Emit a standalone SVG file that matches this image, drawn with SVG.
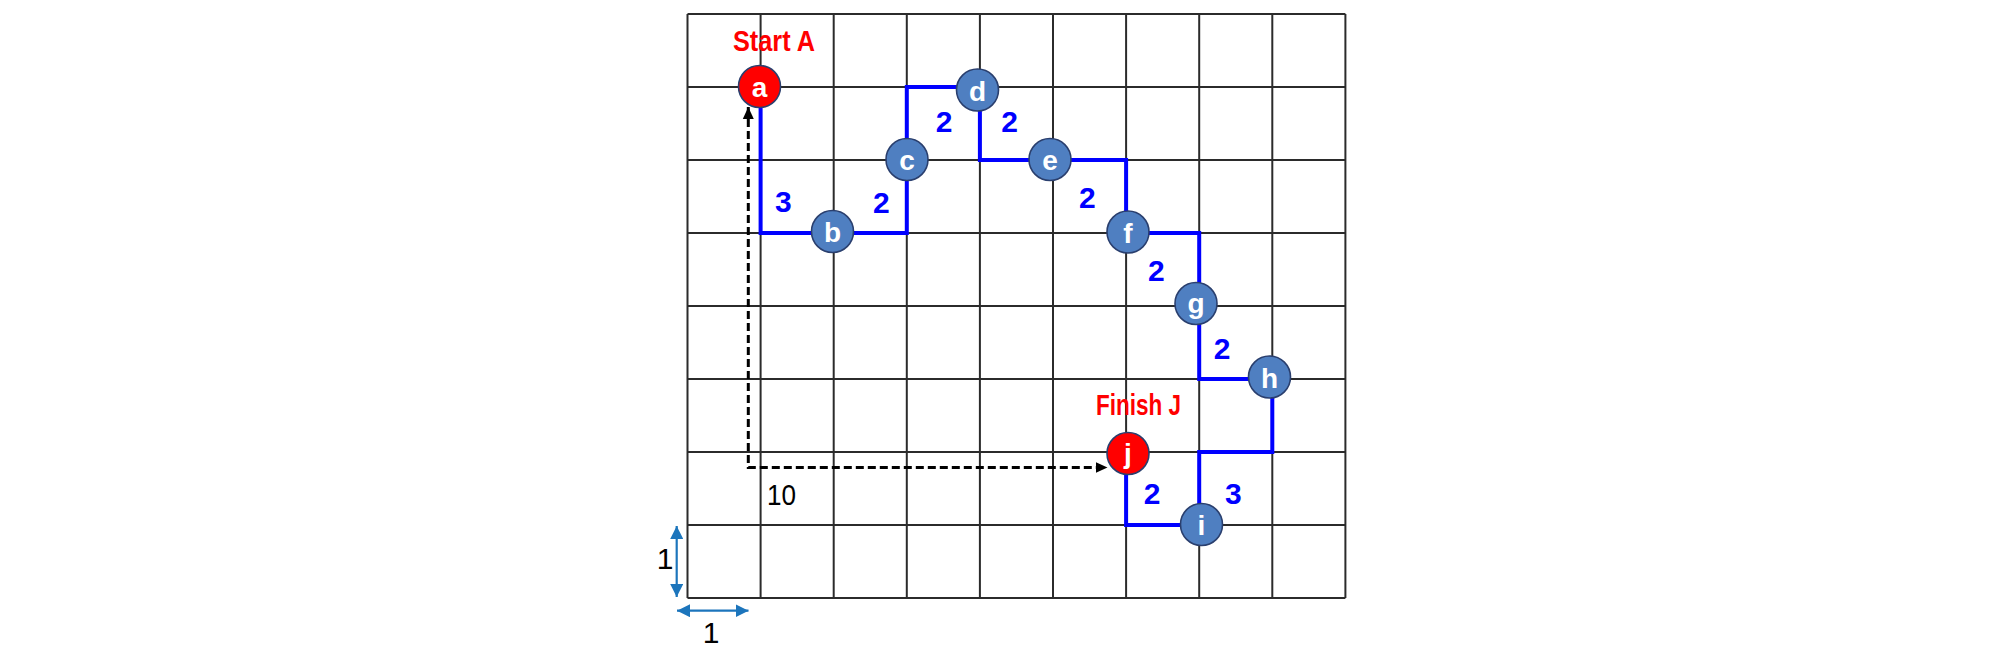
<svg xmlns="http://www.w3.org/2000/svg" width="2008" height="653" viewBox="0 0 2008 653">
  <style>
    .grid line { stroke: #2b2b2b; stroke-width: 2; }
    .path { fill: none; stroke: #0000ff; stroke-width: 4; stroke-linejoin: miter; }
    .dash { fill: none; stroke: #000; stroke-width: 3; stroke-dasharray: 8 4; }
    .meas { fill: none; stroke: #1c75bc; stroke-width: 2.2; }
    .w { font-family: "Liberation Sans", Arial, sans-serif; font-size: 30px; font-weight: bold; fill: #0000ff; text-anchor: middle; }
    .red { font-family: "Liberation Sans", Arial, sans-serif; font-size: 30px; font-weight: bold; fill: #ff0000; }
    .blk { font-family: "Liberation Sans", Arial, sans-serif; font-size: 30px; fill: #000; }
    .node circle { stroke: #2a3f6e; stroke-width: 1.6; }
    .blue circle { fill: #4f7fc1; }
    .redn circle { fill: #ff0000; }
    .node text { font-family: "Liberation Sans", Arial, sans-serif; font-size: 28px; font-weight: bold; fill: #ffffff; text-anchor: middle; }
  </style>
  <defs>
    <marker id="ah" markerUnits="userSpaceOnUse" markerWidth="12" markerHeight="12" viewBox="0 0 12 12" refX="12" refY="6" orient="auto-start-reverse">
      <path d="M0,0.5 L12,6 L0,11.5 z" fill="#000"/>
    </marker>
    <marker id="bh" markerUnits="userSpaceOnUse" markerWidth="13" markerHeight="13" viewBox="0 0 13 13" refX="13" refY="6.5" orient="auto-start-reverse">
      <path d="M0,0 L13,6.5 L0,13 z" fill="#1c75bc"/>
    </marker>
  </defs>

  <rect width="2008" height="653" fill="#ffffff"/>

  <g id="grid" class="grid">
    <line x1="687.5" y1="14" x2="687.5" y2="598"/>
    <line x1="760.6" y1="14" x2="760.6" y2="598"/>
    <line x1="833.7" y1="14" x2="833.7" y2="598"/>
    <line x1="906.8" y1="14" x2="906.8" y2="598"/>
    <line x1="979.9" y1="14" x2="979.9" y2="598"/>
    <line x1="1053" y1="14" x2="1053" y2="598"/>
    <line x1="1126.1" y1="14" x2="1126.1" y2="598"/>
    <line x1="1199.2" y1="14" x2="1199.2" y2="598"/>
    <line x1="1272.3" y1="14" x2="1272.3" y2="598"/>
    <line x1="1345.4" y1="14" x2="1345.4" y2="598"/>
    <line x1="687.5" y1="14" x2="1345.4" y2="14"/>
    <line x1="687.5" y1="87" x2="1345.4" y2="87"/>
    <line x1="687.5" y1="160" x2="1345.4" y2="160"/>
    <line x1="687.5" y1="233" x2="1345.4" y2="233"/>
    <line x1="687.5" y1="306" x2="1345.4" y2="306"/>
    <line x1="687.5" y1="379" x2="1345.4" y2="379"/>
    <line x1="687.5" y1="452" x2="1345.4" y2="452"/>
    <line x1="687.5" y1="525" x2="1345.4" y2="525"/>
    <line x1="687.5" y1="598" x2="1345.4" y2="598"/>
  </g>

  <g id="connectors">
    <path class="path" d="M760.6,87 V233 H906.8 V87 H979.9 V160 H1126.1 V233 H1199.2 V379 H1272.3 V452 H1199.2 V525 H1126.1 V452"/>
    <path class="dash" d="M748.3,107 V467.5 H1107.5" marker-start="url(#ah)" marker-end="url(#ah)"/>
    <path class="meas" d="M676.7,526 V597" marker-start="url(#bh)" marker-end="url(#bh)"/>
    <path class="meas" d="M677,610.7 H748.5" marker-start="url(#bh)" marker-end="url(#bh)"/>
  </g>

  <g id="labels">
    <text class="red" x="733" y="51" textLength="82" lengthAdjust="spacingAndGlyphs">Start A</text>
    <text class="red" x="1096" y="415" textLength="85" lengthAdjust="spacingAndGlyphs">Finish J</text>
    <text class="blk" x="767" y="504.5" textLength="29" lengthAdjust="spacingAndGlyphs">10</text>
    <text class="blk" x="665" y="569" text-anchor="middle">1</text>
    <text class="blk" x="711" y="643" text-anchor="middle">1</text>
    <text class="w" x="783.3" y="211.7">3</text>
    <text class="w" x="881.3" y="212.7">2</text>
    <text class="w" x="944" y="131.7">2</text>
    <text class="w" x="1009.7" y="131.7">2</text>
    <text class="w" x="1087.3" y="208.3">2</text>
    <text class="w" x="1156.3" y="280.7">2</text>
    <text class="w" x="1222" y="359.3">2</text>
    <text class="w" x="1233.3" y="504">3</text>
    <text class="w" x="1152" y="504">2</text>
  </g>

  <g id="node-a" class="node redn"><circle cx="759.5" cy="86.5" r="21"/><text x="759.5" y="96.5">a</text></g>
  <g id="node-b" class="node blue"><circle cx="832.5" cy="231.5" r="21"/><text x="832.5" y="242">b</text></g>
  <g id="node-c" class="node blue"><circle cx="907" cy="159.5" r="21"/><text x="907" y="169.5">c</text></g>
  <g id="node-d" class="node blue"><circle cx="977.5" cy="90" r="21"/><text x="977.5" y="100.5">d</text></g>
  <g id="node-e" class="node blue"><circle cx="1050" cy="159.5" r="21"/><text x="1050" y="169.5">e</text></g>
  <g id="node-f" class="node blue"><circle cx="1128" cy="232" r="21"/><text x="1128" y="242.5">f</text></g>
  <g id="node-g" class="node blue"><circle cx="1196" cy="303.5" r="21"/><text x="1196" y="313">g</text></g>
  <g id="node-h" class="node blue"><circle cx="1269.5" cy="377" r="21"/><text x="1269.5" y="387.5">h</text></g>
  <g id="node-i" class="node blue"><circle cx="1201.5" cy="524.5" r="21"/><text x="1201.5" y="535">i</text></g>
  <g id="node-j" class="node redn"><circle cx="1128" cy="453.5" r="21"/><text x="1128" y="463">j</text></g>
</svg>
